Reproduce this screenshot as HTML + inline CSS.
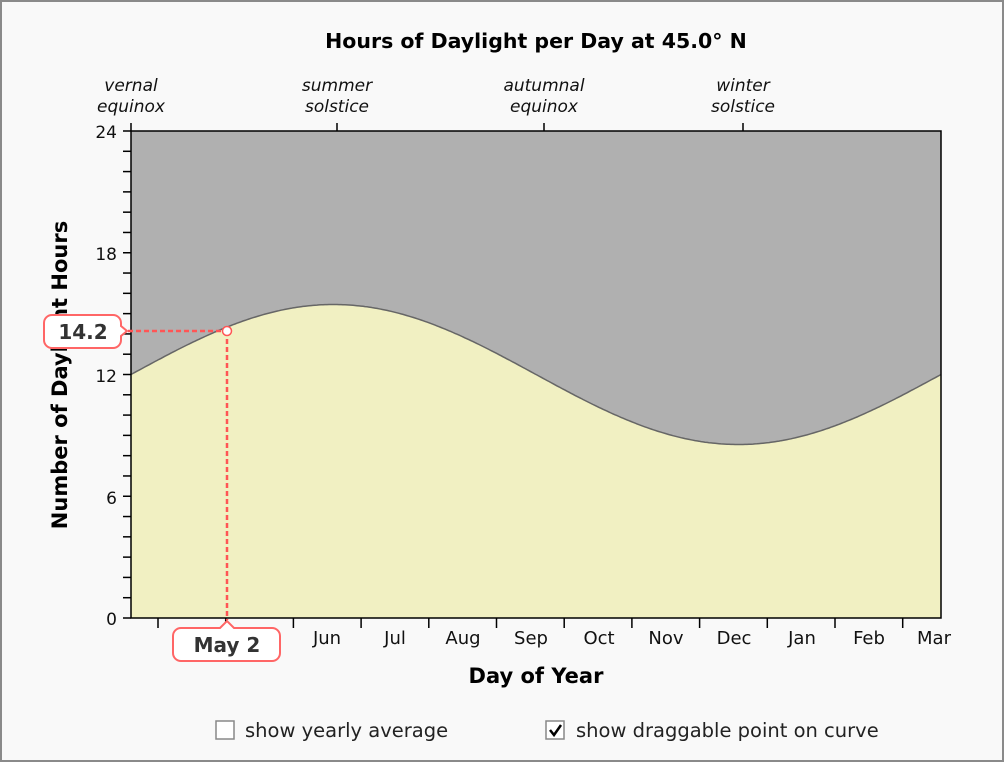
<!DOCTYPE html>
<html><head><style>
body{margin:0;background:#fff}
svg{display:block;font-family:"DejaVu Sans","Liberation Sans",sans-serif}
</style></head><body>
<svg width="1005" height="763" viewBox="0 0 1005 763" xmlns="http://www.w3.org/2000/svg">
<rect x="1" y="1" width="1002" height="760" fill="#f9f9f9" stroke="#8a8a8a" stroke-width="2"/>
<text x="536" y="48" text-anchor="middle" font-size="20.5" font-weight="bold">Hours of Daylight per Day at 45.0° N</text>
<rect x="131" y="131" width="810" height="487" fill="#b0b0b0"/>
<path id="fillp" d="" fill="#f1f0c2"/>
<path id="curve" d="" fill="none" stroke="#666" stroke-width="1.5"/>
<rect x="131" y="131" width="810" height="487" fill="none" stroke="#000" stroke-width="1.5"/>
<g id="ticks" stroke="#000" stroke-width="1.5"></g>
<g font-size="17" text-anchor="end" fill="#111">
<text x="117" y="138">24</text><text x="117" y="260">18</text><text x="117" y="382">12</text><text x="117" y="504">6</text><text x="117" y="625">0</text>
</g>
<g font-size="17" font-style="italic" text-anchor="middle" fill="#111">
<text x="131" y="91">vernal</text><text x="131" y="112">equinox</text>
<text x="337" y="91">summer</text><text x="337" y="112">solstice</text>
<text x="544" y="91">autumnal</text><text x="544" y="112">equinox</text>
<text x="743" y="91">winter</text><text x="743" y="112">solstice</text>
</g>
<g font-size="18" text-anchor="middle" fill="#111">
<text x="327" y="644">Jun</text><text x="395" y="644">Jul</text><text x="463" y="644">Aug</text><text x="531" y="644">Sep</text><text x="599" y="644">Oct</text><text x="666" y="644">Nov</text><text x="734" y="644">Dec</text><text x="802" y="644">Jan</text><text x="869" y="644">Feb</text><text x="934" y="644">Mar</text>
</g>
<text x="536" y="683" text-anchor="middle" font-size="21" font-weight="bold">Day of Year</text>
<text transform="translate(67,375) rotate(-90)" text-anchor="middle" font-size="21" font-weight="bold">Number of Daylight Hours</text>
<g stroke="#f55" stroke-width="2.5" stroke-dasharray="5,3" fill="none">
<line x1="128" y1="331" x2="227" y2="331"/><line x1="227" y1="331" x2="227" y2="620"/>
</g>
<path d="M52,315 H113 a8,8 0 0 1 8,8 v3 l6,5 l-6,5 v4 a8,8 0 0 1 -8,8 H52 a8,8 0 0 1 -8,-8 v-17 a8,8 0 0 1 8,-8z" fill="#fff" stroke="#f66" stroke-width="2"/>
<text x="83" y="339" text-anchor="middle" font-size="20" font-weight="bold" fill="#333">14.2</text>
<path d="M181,628 H220 l7,-7 l7,7 H272 a8,8 0 0 1 8,8 v17 a8,8 0 0 1 -8,8 H181 a8,8 0 0 1 -8,-8 v-17 a8,8 0 0 1 8,-8z" fill="#fff" stroke="#f66" stroke-width="2"/>
<text x="227" y="652" text-anchor="middle" font-size="20" font-weight="bold" fill="#333">May 2</text>
<circle cx="227" cy="331" r="4.5" fill="#fff" stroke="#f55" stroke-width="1.5"/>
<rect x="216" y="721" width="18" height="18" fill="#fff" stroke="#888" stroke-width="1.5"/>
<text x="245" y="737" font-size="19.5" fill="#222">show yearly average</text>
<rect x="546" y="721" width="18" height="18" fill="#fff" stroke="#888" stroke-width="1.5"/>
<path d="M550,730 l4,5 l7,-10" stroke="#000" stroke-width="2.5" fill="none"/>
<text x="576" y="737" font-size="19.5" fill="#222">show draggable point on curve</text>
</svg>
<script>
var c="",f="M131,618 ";
for(var x=131;x<=941;x+=2){var h=12+3.45*Math.sin(2*Math.PI*(x-131)/810);var y=618-h*487/24;c+=(x==131?"M":"L")+x+","+y.toFixed(1)+" ";f+="L"+x+","+y.toFixed(1)+" ";}
f+="L941,618Z";
document.getElementById("curve").setAttribute("d",c);
document.getElementById("fillp").setAttribute("d",f);
var t="";
for(var i=0;i<=24;i++){var y=131+i*487/24;t+='<line x1="123" y1="'+y+'" x2="131" y2="'+y+'"/>';}
for(var k=0;k<12;k++){var x=158+k*67.7;t+='<line x1="'+x+'" y1="618" x2="'+x+'" y2="628"/>';}
[131,337,544,743].forEach(function(x){t+='<line x1="'+x+'" y1="123" x2="'+x+'" y2="131"/>';});
document.getElementById("ticks").innerHTML=t;
</script>
</body></html>
